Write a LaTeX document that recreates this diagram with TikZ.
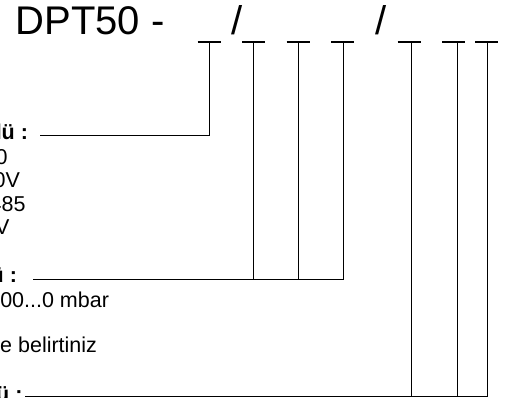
\documentclass[tikz,border=0pt]{standalone}
\usepackage{fontspec}
\setmainfont{Liberation Sans}
\begin{document}
\begin{tikzpicture}[x=1pt,y=-1pt,line width=1pt,
  lbl/.style={inner sep=0pt,anchor=base east,font=\fontsize{21.5}{25}\selectfont},
  lblb/.style={lbl,font=\fontsize{21.5}{25}\selectfont\bfseries},
  ttl/.style={inner sep=0pt,anchor=base,font=\fontsize{40}{48}\selectfont}]
\useasboundingbox (0,0) rectangle (512,398);
\node[ttl,anchor=base west] (title) at (15,35) {DPT50 -};
\node[ttl] (sl1) at (237.5,35) {/};
\node[ttl] (sl2) at (381.5,35) {/};
% blanks: underscore centre / line x
\foreach \u/\v [count=\i] in {209/209.5,253.5/253.5,298/298.3,342.5/343,409/411.7,453.5/457,486.5/487.3}{
  \draw[line width=2pt] (\u-11.5,41.7) -- (\u+11.5,41.7);
  \coordinate (b\i) at (\v,42.7);
}
% labels
\node[lblb] (out) at (28.5,140) {lü :};
\node[lbl] (o1) at (8,165) {0};
\node[lbl] (o2) at (20.5,188) {0V};
\node[lbl] (o3) at (26,212) {485};
\node[lbl] (o4) at (10,235) {V};
\node[lblb] (rng) at (17.5,283) {ü :};
\node[lbl] (r1) at (109.5,308) {00...0 mbar};
\node[lbl] (r2) at (97.5,353) {e belirtiniz};
\node[lblb] (con) at (23,401.5) {ü :};
% connectors
\coordinate (e1) at (40,135.5);
\coordinate (e2) at (33,280);
\coordinate (e3) at (25,396.5);
\draw (b1) |- (e1);
\draw (b2) -- (b2 |- e2);
\draw (b3) -- (b3 |- e2);
\draw (b4) |- (e2);
\draw (b5) -- (b5 |- e3);
\draw (b6) -- (b6 |- e3);
\draw (b7) |- (e3);
\end{tikzpicture}
\end{document}
